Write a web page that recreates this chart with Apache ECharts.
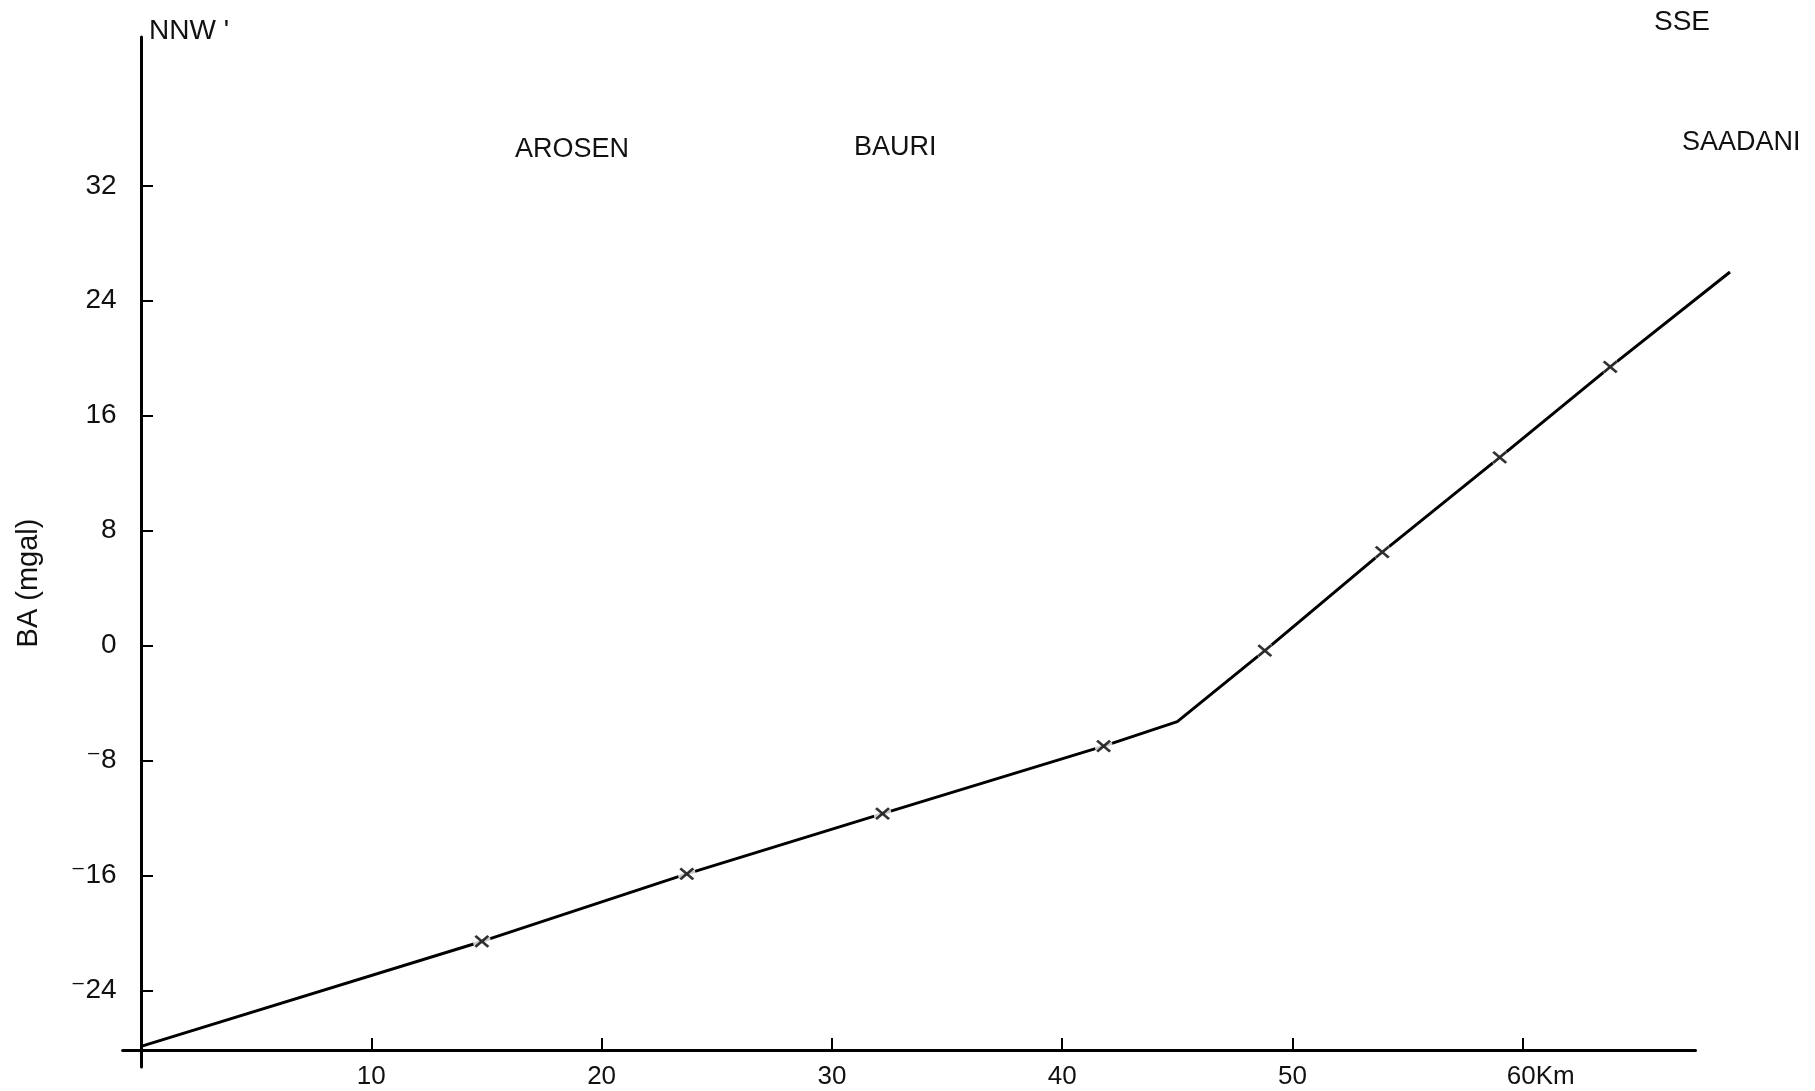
<!DOCTYPE html>
<html>
<head>
<meta charset="utf-8">
<script src="https://cdn.jsdelivr.net/npm/echarts@6/dist/echarts.min.js"></script>
<style>
html,body{margin:0;padding:0;background:#fff;}
#chart{width:1815px;height:1091px;}
</style>
</head>
<body>
<div id="chart"></div>
<script>
// ---- data ----
const distanceKm = [0, 14.8, 23.7, 32.2, 41.8, 45.0, 48.8, 53.9, 59.0, 63.8, 69.0];
const baMgal     = [-27.9, -20.6, -15.9, -11.7, -7.0, -5.3, -0.35, 6.5, 13.1, 19.4, 26.0];
const stationKm  = [14.8, 23.7, 32.2, 41.8, 48.8, 53.9, 59.0, 63.8];
const stationBA  = [-20.6, -15.9, -11.7, -7.0, -0.35, 6.5, 13.1, 19.4];
const yTicks = [-24, -16, -8, 0, 8, 16, 24, 32];
const xTicks = [10, 20, 30, 40, 50, 60];
const yAxisTitle = 'BA (mgal)';
const directionLabels = ["NNW '", 'SSE'];
const placeLabels = ['AROSEN', 'BAURI', 'SAADANI'];

const FONT = '"Liberation Sans", "DejaVu Sans", sans-serif';
const profile = distanceKm.map((x, i) => [x, baMgal[i]]);
const stations = stationKm.map((x, i) => [x, stationBA[i]]);

const chart = echarts.init(document.getElementById('chart'), null, {renderer: 'canvas'});

function txt(text, left, top, size) {
  return {
    type: 'text', left: left, top: top,
    style: {text: text, fill: '#111', font: size + 'px ' + FONT}
  };
}

// scale: 23.03 px per km, 14.365 px per mGal
const option = {
  backgroundColor: '#fff',
  animation: false,
  grid: [
    // grid 0: visible distance axis
    {left: 122.6, right: 119.5, top: 37, bottom: 41, containLabel: false},
    // grid 1: same scale, wider extent: carries the BA axis and the profile
    {left: 122.6, right: 80.4, top: 37, bottom: 24, containLabel: false}
  ],
  xAxis: [
    {
      gridIndex: 0, type: 'value', min: -0.8, max: 67.5,
      axisLine: {onZero: false, lineStyle: {color: '#000', width: 3}},
      axisTick: {inside: true, length: 12, lineStyle: {color: '#000', width: 2}, customValues: xTicks},
      axisLabel: {
        customValues: xTicks, color: '#111', fontSize: 26, fontFamily: FONT, margin: 14,
        formatter: v => v === 60 ? '{p|  }60Km' : String(v),
        rich: {p: {width: 36}}
      },
      splitLine: {show: false}
    },
    {
      gridIndex: 1, type: 'value', min: -0.8, max: 69.2, show: false,
      splitLine: {show: false}
    }
  ],
  yAxis: [
    {
      gridIndex: 0, type: 'value', min: -28.16, max: 42.36, show: false,
      splitLine: {show: false}
    },
    {
      gridIndex: 1, type: 'value', min: -29.34, max: 42.36,
      axisLine: {onZero: true, lineStyle: {color: '#000', width: 3}},
      axisTick: {inside: true, length: 12, lineStyle: {color: '#000', width: 2}, customValues: yTicks},
      axisLabel: {
        customValues: yTicks, color: '#111', fontSize: 28, fontFamily: FONT, margin: 6,
        formatter: v => v < 0 ? '\u207B' + Math.abs(v) : String(v)
      },
      splitLine: {show: false}
    }
  ],
  series: [
    {
      type: 'line', xAxisIndex: 1, yAxisIndex: 1, data: profile, showSymbol: false, z: 2,
      lineStyle: {color: '#000', width: 3}
    },
    {
      type: 'scatter', xAxisIndex: 1, yAxisIndex: 1, data: stations, symbol: 'circle', symbolSize: 18, z: 3,
      itemStyle: {color: '#fff', borderWidth: 0}, silent: true
    },
    {
      type: 'scatter', xAxisIndex: 1, yAxisIndex: 1, data: stations,
      symbol: 'path://M0,0L13,11M13,0L0,11', symbolSize: [13, 11], z: 4,
      itemStyle: {color: 'rgba(0,0,0,0)', borderColor: '#000', borderWidth: 2.6}
    }
  ],
  graphic: [
    txt(directionLabels[0], 149, 17, 28),
    txt(directionLabels[1], 1654, 8, 28),
    txt(placeLabels[0], 515, 136, 27),
    txt(placeLabels[1], 854, 134, 27),
    txt(placeLabels[2], 1682, 129, 27),
    {
      type: 'text', x: 29, y: 583, rotation: Math.PI / 2,
      style: {text: yAxisTitle, fill: '#111', font: '29px ' + FONT, align: 'center', verticalAlign: 'middle'}
    }
  ]
};
chart.setOption(option);
</script>
</body>
</html>
